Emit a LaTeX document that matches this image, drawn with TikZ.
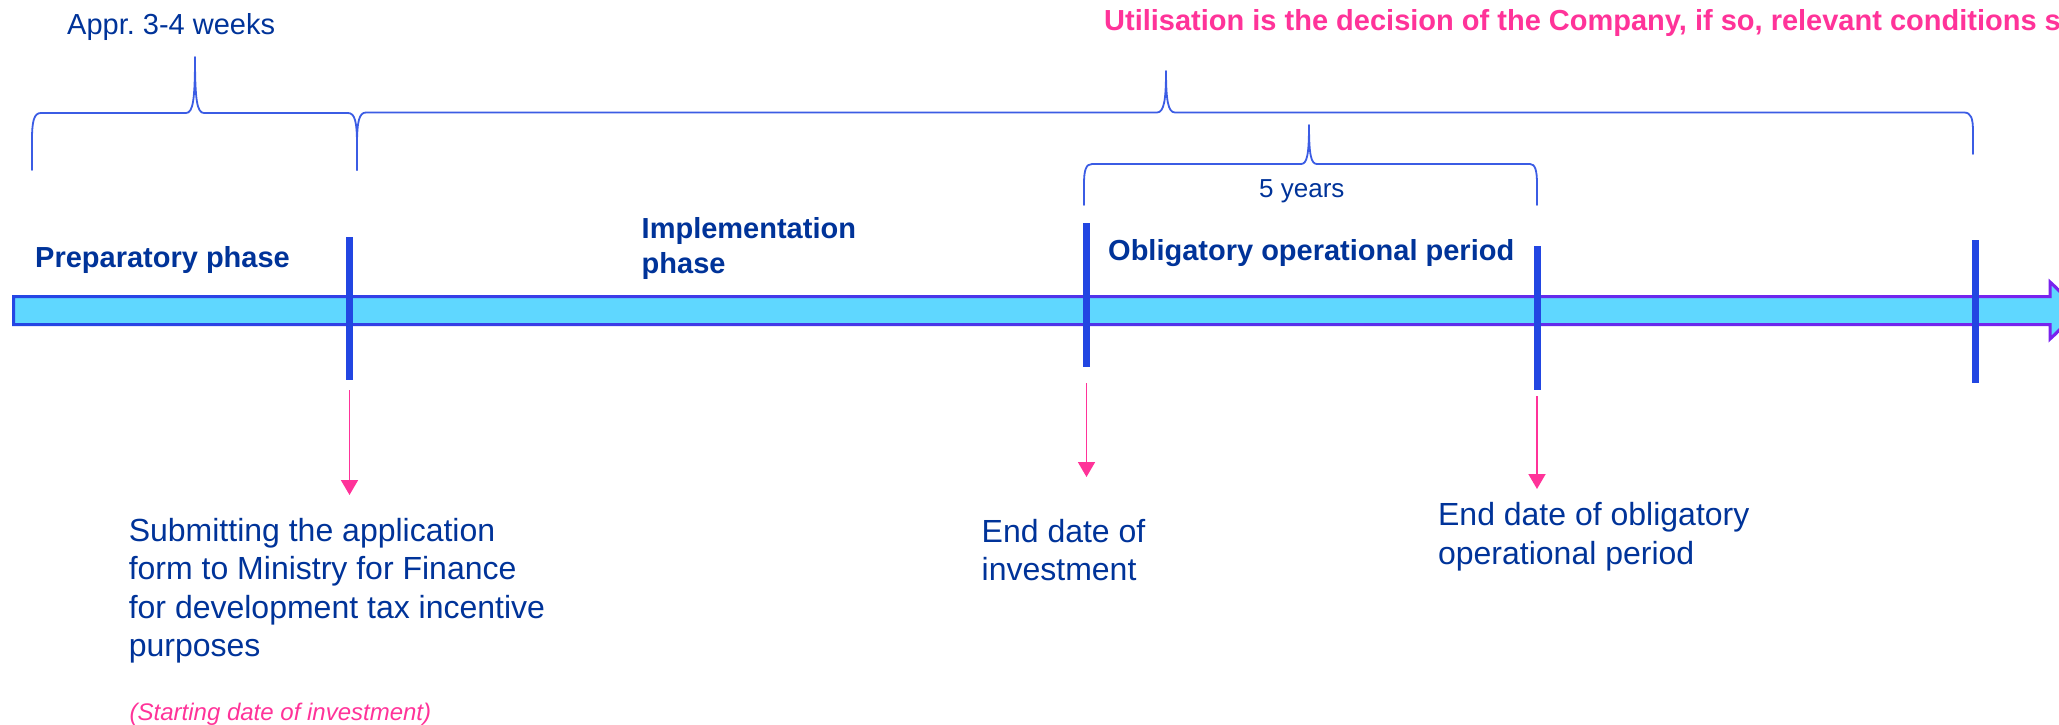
\documentclass[tikz,border=0pt]{standalone}
\usepackage{fontspec}
\setmainfont{Liberation Sans}
\frenchspacing
\usetikzlibrary{arrows.meta}
\definecolor{navytext}{HTML}{003399}
\definecolor{pinkc}{HTML}{FF3399}
\definecolor{tickblue}{HTML}{2246E2}
\definecolor{bracec}{HTML}{3B5CE4}
\definecolor{cyanfill}{HTML}{5FD7FF}
\definecolor{borderblue}{HTML}{2446E4}
\definecolor{borderpurple}{HTML}{7A22EE}
\tikzset{
  txt/.style={inner sep=0pt, anchor=base west, text=navytext, align=left},
  boldtxt/.style={txt, font=\fontsize{29}{35}\selectfont\bfseries},
  bigtxt/.style={txt, font=\fontsize{32}{38.4}\selectfont},
  tickbar/.style={rectangle, fill=tickblue, draw=none, inner sep=0pt, minimum width=7pt},
  pinkarrow/.style={draw=pinkc, line width=1.8pt, -{Triangle[width=17pt,length=15pt]}},
  bracestyle/.style={draw=bracec, line width=1.8pt, line join=round, line cap=round},
}
\begin{document}
\begin{tikzpicture}[x=1pt,y=-1pt]
\useasboundingbox (0,0) rectangle (2059,725);
\clip (0,0) rectangle (2059,725);

% braces
\draw[bracestyle] (32,170) -- (32,140) .. controls (32,121) and (34,113) .. (41,113)
  -- (186,113) .. controls (193,113) and (195,100) .. (195,57)
  .. controls (195,100) and (197,113) .. (204,113)
  -- (348,113) .. controls (355,113) and (357,122) .. (357,145) -- (357,170);
\draw[bracestyle] (357,170) -- (357,145) .. controls (357,122) and (359,112.5) .. (366,112.5)
  -- (1157,112.5) .. controls (1164,112.5) and (1166,100) .. (1166,71)
  .. controls (1166,100) and (1168,112.5) .. (1175,112.5)
  -- (1964,112.5) .. controls (1971,112.5) and (1973,118) .. (1973,132) -- (1973,154);
\draw[bracestyle] (1084,205) -- (1084,184) .. controls (1084,170) and (1086,164) .. (1092,164)
  -- (1301,164) .. controls (1307,164) and (1309,155) .. (1309,125)
  .. controls (1309,155) and (1311,164) .. (1317,164)
  -- (1530,164) .. controls (1535,164) and (1537,170) .. (1537,184) -- (1537,205);

% timeline arrow
\fill[cyanfill] (13.5,296.5) -- (2050,296.5) -- (2050,282) -- (2080,310.5) -- (2050,339) -- (2050,324.5) -- (13.5,324.5) -- cycle;
\shade[left color=borderblue, right color=borderpurple, even odd rule]
  (12,295) -- (2048.5,295) -- (2048.5,278.5) -- (2083,310.5) -- (2048.5,342.5) -- (2048.5,326) -- (12,326) -- cycle
  (15,298) -- (2051.5,298) -- (2051.5,285.5) -- (2077,310.5) -- (2051.5,335.5) -- (2051.5,323) -- (15,323) -- cycle;

% ticks
\node[tickbar, minimum height=143pt] (t1) at (349.5,308.5) {};
\node[tickbar, minimum height=144pt] (t2) at (1086.5,295) {};
\node[tickbar, minimum height=144pt] (t3) at (1537,318) {};
\node[tickbar, minimum height=143pt] (t4) at (1975,311.5) {};

% labels (multi-line nodes anchored at the baseline of their last line)
\node[txt, font=\fontsize{29}{35}\selectfont] (weeks) at (67,35) {Appr. 3-4 weeks};
\node[boldtxt, text=pinkc] (util) at (1104,31) {Utilisation is the decision of the Company, if so, relevant conditions shall};
\node[txt, font=\fontsize{26}{31}\selectfont] (years) at (1259,197) {5 years};
\node[boldtxt] (prep) at (35,267) {Preparatory phase};
\node[boldtxt] (impl) at (641.5,273.3) {Implementation\\phase};
\node[boldtxt] (oblig) at (1108,260) {Obligatory operational period};

\node[bigtxt] (submit) at (128.6,656.5) {Submitting the application\\form to Ministry for Finance\\for development tax incentive\\purposes};
\node[txt, text=pinkc, font=\fontsize{24}{29}\selectfont\itshape] (start) at (129.5,720) {(Starting date of investment)};
\node[bigtxt] (endinv) at (981.5,580.5) {End date of\\investment};
\node[bigtxt] (endop) at (1437.9,564.3) {End date of obligatory\\operational period};

% pink arrows
\coordinate (e1) at (349.5,495);
\coordinate (e2) at (1086.5,477);
\coordinate (e3) at (1537,489);
\draw[pinkarrow, shorten <=10pt] (t1.south) -- (e1);
\draw[pinkarrow, shorten <=16pt] (t2.south) -- (e2);
\draw[pinkarrow, shorten <=6pt] (t3.south) -- (e3);
\end{tikzpicture}
\end{document}
